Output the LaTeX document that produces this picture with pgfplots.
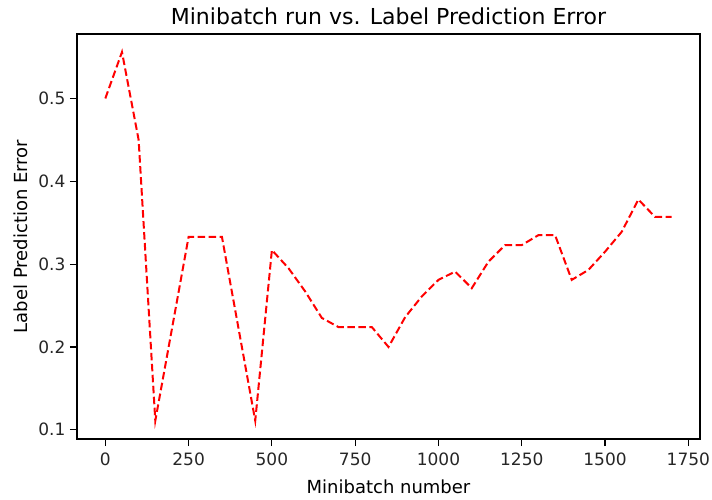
\documentclass[border=0pt]{standalone}
\usepackage{fontspec}
\setmainfont{DejaVu Sans}
\usepackage{pgfplots}
\pgfplotsset{compat=1.18}

\pgfplotstableread{
x y
0 0.500
50 0.556
100 0.450
150 0.111
200 0.222
250 0.333
300 0.333
350 0.333
400 0.222
450 0.111
500 0.317
550 0.295
600 0.267
650 0.235
700 0.224
750 0.224
800 0.224
850 0.200
900 0.236
950 0.261
1000 0.281
1050 0.291
1100 0.271
1150 0.303
1200 0.323
1250 0.323
1300 0.335
1350 0.335
1400 0.281
1450 0.293
1500 0.315
1550 0.339
1600 0.378
1650 0.357
1700 0.357
}\errtable

\begin{document}
\begin{tikzpicture}
\begin{axis}[
  name=ax,
  scale only axis,
  width=623pt, height=405pt,
  xmin=-85, xmax=1785,
  ymin=0.0889, ymax=0.5778,
  xtick={0,250,...,1750},
  ytick={0.1,0.2,...,0.5},
  axis line style={line width=1.2pt},
  tick style={line width=1.2pt, black},
  tick align=outside,
  major tick length=7pt,
  xtick pos=bottom, ytick pos=left,
  ticklabel style={font=\fontsize{17}{20}\selectfont, text=black!85},
  xticklabel style={yshift=-3pt},
  yticklabel style={xshift=-1pt},
  /pgf/number format/assume math mode=true,
  /pgf/number format/1000 sep={},
  yticklabel style={/pgf/number format/fixed, /pgf/number format/precision=1},
  title={Minibatch run vs. Label Prediction Error},
  title style={font=\fontsize{22}{26}\selectfont, yshift=0pt},
  xlabel={Minibatch number},
  ylabel={Label Prediction Error},
  xlabel style={yshift=-8pt},
  ylabel style={yshift=4pt},
  label style={font=\fontsize{18}{21}\selectfont},
]
\addplot[red, line width=2pt, dash pattern=on 7.5pt off 3.5pt] table[x=x,y=y] {\errtable};
\end{axis}
\pgfresetboundingbox
\path (ax.south west) ++(-77pt,-60pt) rectangle ++(712pt,499pt);
\end{tikzpicture}
\end{document}
